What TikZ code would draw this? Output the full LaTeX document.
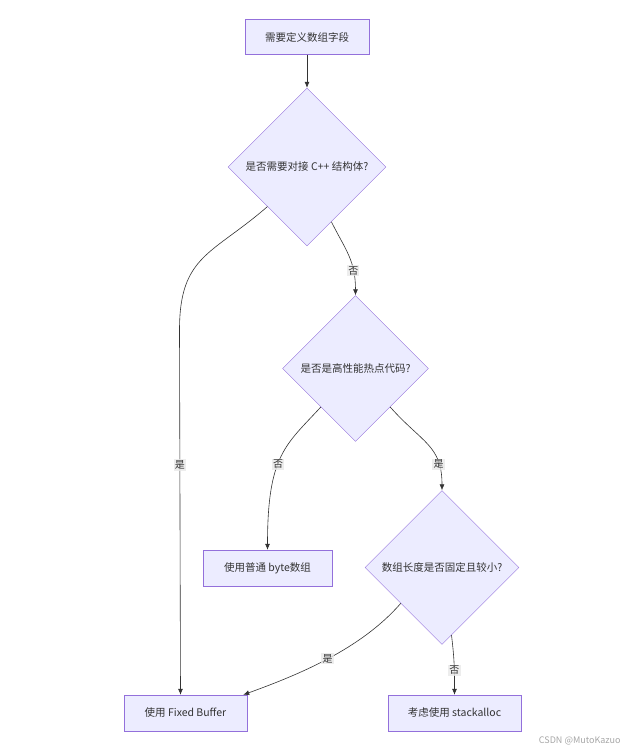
\documentclass[tikz,border=0pt]{standalone}
\usepackage{fontspec}
\setmainfont{Noto Sans CJK SC}
\usepackage{tikz}
\usetikzlibrary{shapes.geometric, arrows.meta, positioning, calc}
\definecolor{boxfill}{HTML}{ECECFF}
\definecolor{boxline}{HTML}{9370DB}
\definecolor{edgeline}{HTML}{333333}
\definecolor{lblfill}{HTML}{E8E8E8}

\begin{document}
\begin{tikzpicture}[
    x=1pt, y=-1pt,
    >={Latex[length=6pt,width=5pt]},
    font=\fontsize{10.5}{13}\selectfont,
    stepbox/.style={draw=boxline, fill=boxfill, minimum width=#1, minimum height=36pt, text=black!80},
    stepbox/.default={124pt},
    choice/.style={diamond, draw=boxline, fill=boxfill, minimum width=#1, minimum height=#1, inner sep=0pt, text=black!80},
    choice/.default={156pt},
    flow/.style={->, draw=edgeline, line width=0.6pt},
    lbl/.style={fill=lblfill, fill opacity=0.8, text opacity=1, inner sep=1.2pt, font=\fontsize{10}{12}\selectfont, text=black!80}
]
\useasboundingbox (0,0) rectangle (636,753);

\node[stepbox=124pt, minimum height=35pt] (need) at (307,37) {需要定义数组字段};
\node[choice=158pt] (cpp) at (307,167) {是否需要对接 C++ 结构体?};
\node[choice=146pt] (hot) at (355.5,368.5) {是否是高性能热点代码?};
\node[stepbox=129pt] (bytearr) at (267.5,568) {使用普通 byte数组};
\node[choice=154pt] (len) at (442,567.5) {数组长度是否固定且较小?};
\node[stepbox=123pt] (fixed) at (185.5,713) {使用 Fixed Buffer};
\node[stepbox=133pt] (stack) at (454.5,713) {考虑使用 stackalloc};

\node[text=gray!70, font=\fontsize{9}{11}\selectfont, anchor=east] (mark) at (624,741) {CSDN @MutoKazuo};

\coordinate (bend) at (179.5,330);

\draw[flow] (need) -- (cpp);
\draw[flow] (cpp.south west) .. controls +(-55,48) and +(0,-75) .. (bend)
    -- node[lbl, pos=0.37] {是} ([xshift=-5]fixed.north);
\draw[flow] (cpp.-66) .. controls +(14,28) and +(0,-35) .. node[lbl, pos=0.72] {否} (hot.north);
\draw[flow] (hot.228) .. controls +(-35,38) and +(0,-95) .. node[lbl, pos=0.56] {否} (bytearr.north);
\draw[flow] (hot.-48) .. controls +(32,36) and +(0,-45) .. node[lbl, pos=0.76] {是} (len.north);
\draw[flow] (len.221) .. controls +(-40,46) and +(55,-20) .. node[lbl, pos=0.5] {是} ([xshift=-4]fixed.north east);
\draw[flow] (len.-82) .. controls +(3,25) and +(0,-25) .. node[lbl, pos=0.6] {否} (stack.north);

\end{tikzpicture}
\end{document}
